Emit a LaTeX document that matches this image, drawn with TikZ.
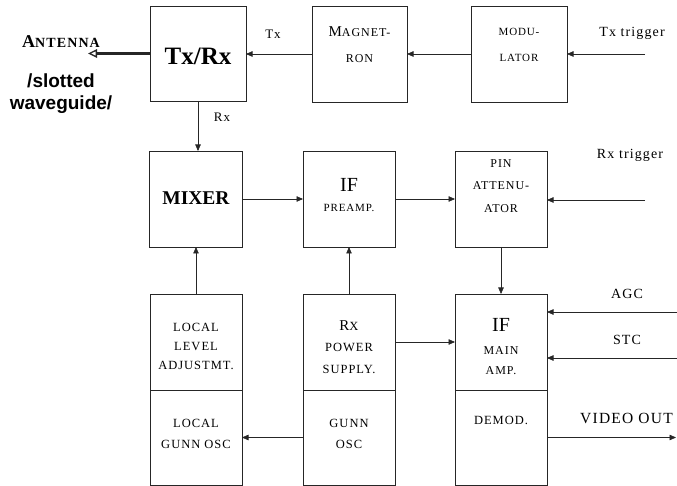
\documentclass[tikz,border=0pt]{standalone}
\usepackage{fontspec}
\setmainfont{Liberation Serif}
\newfontfamily\lsp[LetterSpace=8]{Liberation Serif}
\newfontfamily\sansfam{Liberation Sans}
\usetikzlibrary{arrows.meta}
\newcommand{\capbig}[1]{{\fontsize{15}{15}\selectfont #1}}
\begin{document}
\begin{tikzpicture}[x=1pt,y=-1pt,
  box/.style={draw=black!85, line width=0.7pt, inner sep=0pt, outer sep=0pt},
  sc/.style={font=\lsp\fontsize{12.5}{21}\selectfont, align=center, inner sep=0pt},
  lab/.style={font=\lsp\fontsize{14}{16}\selectfont, inner sep=0pt},
  arr/.style={line width=0.6pt, draw=black!85, -{Triangle[length=6.5pt,width=5.5pt]}},
]
\useasboundingbox (0,0) rectangle (677,486);

% ---------- boxes ----------
\node[box, minimum width=96pt, minimum height=95pt] (txrx) at (198,53.5) {};
\node[box, minimum width=95pt, minimum height=96pt] (mag) at (359.5,54) {};
\node[box, minimum width=96pt, minimum height=96pt] (mod) at (519,54) {};

\node[box, minimum width=93pt, minimum height=96pt] (mixer) at (195.5,199) {};
\node[box, minimum width=92pt, minimum height=96pt] (pre) at (349,199) {};
\node[box, minimum width=92pt, minimum height=96pt] (pin) at (501,199) {};

\node[box, minimum width=92pt, minimum height=96pt] (lla) at (196,342) {};
\node[box, minimum width=92pt, minimum height=95pt] (lgo) at (196,437.5) {};
\node[box, minimum width=92pt, minimum height=96pt] (rps) at (349,342) {};
\node[box, minimum width=92pt, minimum height=95pt] (gosc) at (349,437.5) {};
\node[box, minimum width=92pt, minimum height=96pt] (ifm) at (501,342) {};
\node[box, minimum width=92pt, minimum height=95pt] (dem) at (501,437.5) {};

% ---------- texts ----------
\node[inner sep=0pt, font=\bfseries\fontsize{25}{25}\selectfont] (ttxrx) at (198,56) {Tx/Rx};
\node[sc, font=\lsp\fontsize{12}{26}\selectfont] (tmag) at (359.5,45) {\capbig{M}AGNET-\\RON};
\node[sc, font=\lsp\fontsize{11}{26}\selectfont] (tmod) at (519,45) {MODU-\\LATOR};
\node[lab, font=\lsp\fontsize{13}{15}\selectfont] (ttx) at (273,34) {Tx};
\node[lab] (ttrig) at (632,33) {Tx trigger};

\node[inner sep=0pt, font=\lsp\bfseries\fontsize{14}{14}\selectfont] (tant) at (61,42) {{\fontsize{18}{18}\selectfont A}NTENNA};
\node[inner sep=0pt, align=center, font=\sansfam\bfseries\fontsize{19}{22}\selectfont] (tslot) at (61,94) {/slotted\\waveguide/};

\node[lab, font=\lsp\fontsize{13}{15}\selectfont] (trx) at (222,117) {Rx};

\node[inner sep=0pt, font=\bfseries\fontsize{19.5}{20}\selectfont] (tmix) at (196,198) {MIXER};
\node[inner sep=0pt, font=\fontsize{20}{20}\selectfont] (tif1) at (349,185) {IF};
\node[sc, font=\lsp\fontsize{11}{13}\selectfont] (tpre) at (349,208) {PREAMP.};
\node[sc, font=\lsp\fontsize{12}{22.5}\selectfont] (tpin) at (501,186) {PIN\\ATTENU-\\ATOR};
\node[lab] (trtrig) at (630,155) {Rx trigger};

\node[sc, font=\lsp\fontsize{12.5}{19}\selectfont] (tlla) at (196,346) {LOCAL\\LEVEL\\ADJUSTMT.};
\node[sc] (tlgo) at (196,433.5) {LOCAL\\GUNN OSC};
\node[sc, font=\lsp\fontsize{12.5}{21.5}\selectfont] (trps) at (349,347) {\capbig{R}X\\POWER\\SUPPLY.};
\node[sc] (tgosc) at (349,433.5) {GUNN\\OSC};
\node[inner sep=0pt, font=\fontsize{20}{20}\selectfont] (tif2) at (501,325) {IF};
\node[sc, font=\lsp\fontsize{12}{20}\selectfont] (tmain) at (501,361) {MAIN\\AMP.};
\node[sc] (tdem) at (501,420) {DEMOD.};

\node[lab] (tagc) at (627,294) {AGC};
\node[lab] (tstc) at (627,340) {STC};
\node[lab, anchor=west, font=\lsp\fontsize{15.5}{17}\selectfont] (tvid) at (580,418) {VIDEO OUT};

% ---------- connectors ----------
\coordinate (ant) at (88,53.5);
\draw[line width=3pt, draw=black!85, -{Triangle[open,length=9pt,width=8.5pt,line width=1.3pt]}] (txrx.west) -- (ant);
\draw[arr] (mag.west) -- (mag.west -| txrx.east);
\draw[arr] (mod.west) -- (mod.west -| mag.east);
\coordinate (txin) at (645,54);
\draw[arr] (txin) -- (txin -| mod.east);

\draw[arr] (txrx.south) -- (txrx.south |- mixer.north);
\draw[arr] (mixer.east) -- (pre.west);
\draw[arr] (pre.east) -- (pin.west);
\coordinate (rxin) at (645,200);
\draw[arr] (rxin) -- (rxin -| pin.east);

\draw[arr] (lla.north) -- (lla.north |- mixer.south);
\draw[arr] (rps.north) -- (rps.north |- pre.south);
\draw[arr] (pin.south) -- (pin.south |- ifm.north);
\draw[arr] (rps.east) -- (ifm.west);

\coordinate (agcin) at (677,312);
\coordinate (stcin) at (677,358);
\coordinate (vout) at (676,437.5);
\draw[arr] (agcin) -- (agcin -| ifm.east);
\draw[arr] (stcin) -- (stcin -| ifm.east);
\draw[arr] (dem.east) -- (vout);
\draw[arr] (gosc.west) -- (lgo.east);
\end{tikzpicture}
\end{document}
